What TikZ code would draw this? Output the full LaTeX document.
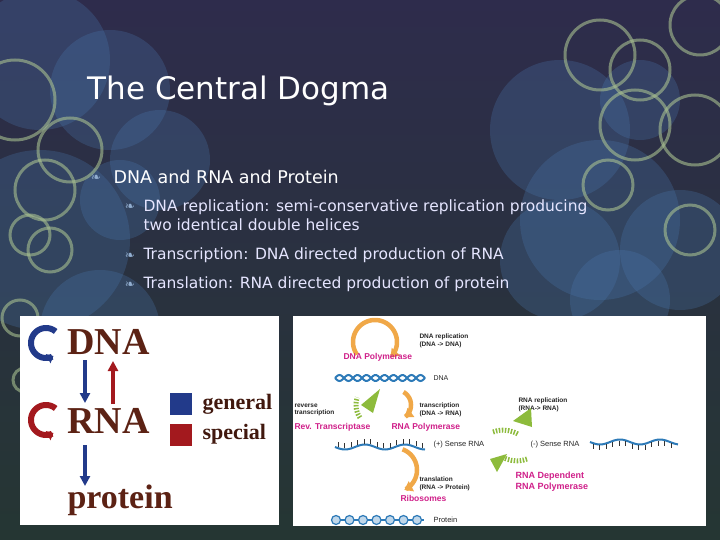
\documentclass[tikz,border=0pt]{standalone}
\usepackage{fontspec}
\setmainfont{DejaVu Sans}
\newfontfamily\serifb{Liberation Serif}
\newfontfamily\lab{Liberation Sans}
\usetikzlibrary{arrows.meta}
\definecolor{bgtop}{HTML}{2E2C4C}
\definecolor{bgbot}{HTML}{253633}
\definecolor{blob}{HTML}{4A78B0}
\definecolor{ring}{HTML}{A8C090}
\definecolor{dred}{HTML}{5C2214}
\definecolor{gblue}{HTML}{223A8A}
\definecolor{sred}{HTML}{A3191E}
\definecolor{dorange}{HTML}{F0A848}
\definecolor{dgreen}{HTML}{8DBB3C}
\definecolor{mag}{HTML}{D0208A}
\definecolor{helix}{HTML}{2D7AB8}
\tikzset{
 blobc/.style={fill=blob,fill opacity=0.28,draw=none},
 ringc/.style={draw=ring,draw opacity=0.6,line width=3pt},
 titletxt/.style={text=white,font=\fontsize{31}{36}\selectfont,anchor=west},
 b1/.style={text=white,font=\fontsize{17.5}{20}\selectfont,anchor=west},
 b2/.style={text=white!90!blue,font=\fontsize{15.5}{19}\selectfont,anchor=north west,align=left},
 bul/.style={text=blob!60!white,font=\fontsize{12}{12}\selectfont},
 big/.style={text=dred,font=\serifb\bfseries\fontsize{38}{40}\selectfont,anchor=west},
 leg/.style={text=dred!70!black,font=\serifb\bfseries\fontsize{22}{24}\selectfont,anchor=west},
 sm/.style={font=\lab\bfseries\fontsize{6.5}{7.5}\selectfont,anchor=west,align=left,text=black!85},
 mg/.style={font=\lab\bfseries\fontsize{8.5}{10}\selectfont,anchor=west,align=left,text=mag},
 oarc/.style={draw=dorange,line width=4.5pt,-{Triangle[width=11pt,length=8pt]}},
 garc/.style={draw=dgreen,line width=5pt,dash pattern=on 1.5pt off 1.5pt},
 gtri/.style={fill=dgreen,draw=none},
 blar/.style={draw=gblue,line width=3.5pt,-{Triangle[width=10pt,length=10pt]}},
 rdar/.style={draw=sred,line width=3.5pt,-{Triangle[width=10pt,length=10pt]}},
 carc/.style={line width=6pt,-{Triangle[width=10pt,length=6pt]}},
}
\begin{document}
\begin{tikzpicture}[x=1pt,y=-1pt]
\shade[top color=bgtop,bottom color=bgbot] (0,0) rectangle (720,540);
\useasboundingbox (0,0) rectangle (720,540);
% blobs
\foreach \x/\y/\r in {40/60/70,110/90/60,160/160/50,40/240/90,100/330/60,560/130/70,600/220/80,560/260/60,620/300/50,680/250/60,640/100/40,120/200/40}
  \path[blobc] (\x,\y) circle (\r);
% rings
\foreach \x/\y/\r in {15/100/40,70/150/32,45/190/30,30/235/20,50/250/22,20/318/18,40/355/17,25/380/12,600/55/35,640/70/30,635/125/35,695/130/35,608/185/25,700/25/30,690/230/25,685/385/12,680/402/10}
  \draw[ringc] (\x,\y) circle (\r);
% title and bullets
\node[titletxt] (title) at (84,91) {The Central Dogma};
\node[bul] (u1) at (96,178) {❧};
\node[b1] (t1) at (110,177) {DNA and RNA and Protein};
\node[bul] (u2) at (130,207) {❧};
\node[b2] (t2) at (140,196) {DNA replication: semi-conservative replication producing\\two identical double helices};
\node[bul] (u3) at (130,256) {❧};
\node[b2] (t3) at (140,244) {Transcription: DNA directed production of RNA};
\node[bul] (u4) at (130,285) {❧};
\node[b2] (t4) at (140,273) {Translation: RNA directed production of protein};
% left image
\fill[white] (20,316) rectangle (279,525);
\draw[carc,gblue] plot[domain=-50:-300,samples=40] ({46+15*cos(\x)},{343+15*sin(\x)});
\draw[carc,sred] plot[domain=-50:-300,samples=40] ({46+15*cos(\x)},{420+15*sin(\x)});
\node[big] (dna) at (64,342) {DNA};
\node[big] (rna) at (64,421) {RNA};
\node[big,font=\serifb\bfseries\fontsize{34}{36}\selectfont] (prot) at (64,500) {protein};
\draw[blar] (85,360) -- (85,403);
\draw[rdar] (113,404) -- (113,361);
\draw[blar] (85,445) -- (85,486);
\fill[gblue] (170,393) rectangle (192,415);
\fill[sred] (170,424) rectangle (192,446);
\node[leg] (gen) at (199,404) {general};
\node[leg] (spe) at (199,434) {special};
% right image
\fill[white] (293,316) rectangle (706,526);
\draw[oarc] plot[domain=215:-45,samples=50] ({375+22*cos(\x)},{342-22*sin(\x)});
\node[sm] (l1) at (416,341) {DNA replication\\(DNA -> DNA)};
\node[mg] (m1) at (340,357) {DNA Polymerase};
% DNA helix
\draw[helix,line width=2pt,domain=0:90,samples=60] plot ({335+\x},{378+3*sin(\x*20)});
\draw[helix,line width=2pt,domain=0:90,samples=60] plot ({335+\x},{378-3*sin(\x*20)});
\node[sm,font=\lab\fontsize{7}{8}\selectfont] (ldna) at (430,378) {DNA};
% transcription
\draw[oarc] plot[domain=60:-55,samples=30] ({396+15*cos(\x)},{405-15*sin(\x)});
\node[sm] (l2) at (416,410) {transcription\\(DNA -> RNA)};
\node[mg] (m2) at (388,427) {RNA Polymerase};
% reverse transcription
\draw[garc] plot[domain=215:160,samples=20] ({378+22*cos(\x)},{405-22*sin(\x)});
\fill[gtri] (361,405) -- (380,389) -- (373,413) -- cycle;
\node[sm] (l3) at (291,410) {reverse\\transcription};
\node[mg] (m3) at (291,427) {Rev. Transcriptase};
% RNA strand
\draw[helix,line width=2pt,domain=0:90,samples=60] plot ({335+\x},{447+2.5*sin(\x*9)});
\foreach \i in {0,...,13} \draw[black!80,line width=0.8pt] ({338+\i*6.5},{446+2.5*sin((3+\i*6.5)*9)}) -- ++(0,-5);
\node[sm,font=\lab\fontsize{7.5}{8}\selectfont] (l4) at (430,445) {(+) Sense RNA};
\node[sm,font=\lab\fontsize{7.5}{8}\selectfont] (l5) at (527,445) {(-) Sense RNA};
\draw[helix,line width=2pt,domain=0:88,samples=60] plot ({590+\x},{442+2.5*sin(\x*9)});
\foreach \i in {0,...,12} \draw[black!80,line width=0.8pt] ({593+\i*6.5},{443+2.5*sin((3+\i*6.5)*9)}) -- ++(0,5);
% RNA replication
\node[sm] (l6) at (515,405) {RNA replication\\(RNA-> RNA)};
\draw[garc] (493,432) arc (250:300:30);
\fill[gtri] (513,421) -- (531,408) -- (532,427) -- cycle;
\draw[garc] (527,459) arc (70:120:30);
\fill[gtri] (490,459) -- (507,454) -- (497,472) -- cycle;
\node[mg,font=\lab\bfseries\fontsize{9}{11}\selectfont] (m4) at (512,482) {RNA Dependent\\RNA Polymerase};
% translation
\draw[oarc] plot[domain=70:-65,samples=30] ({395+22*cos(\x)},{470-22*sin(\x)});
\node[sm] (l7) at (416,484) {translation\\(RNA -> Protein)};
\node[mg] (m5) at (397,498) {Ribosomes};
% protein beads
\draw[helix,line width=1.5pt] (334,520) -- (424,520);
\foreach \i in {0,...,6} \draw[helix,fill=helix!30,line width=1.2pt] ({336+\i*13.5},520) circle (4.5);
\node[sm,font=\lab\fontsize{7.5}{8}\selectfont] (l8) at (430,520) {Protein};
\end{tikzpicture}
\end{document}
